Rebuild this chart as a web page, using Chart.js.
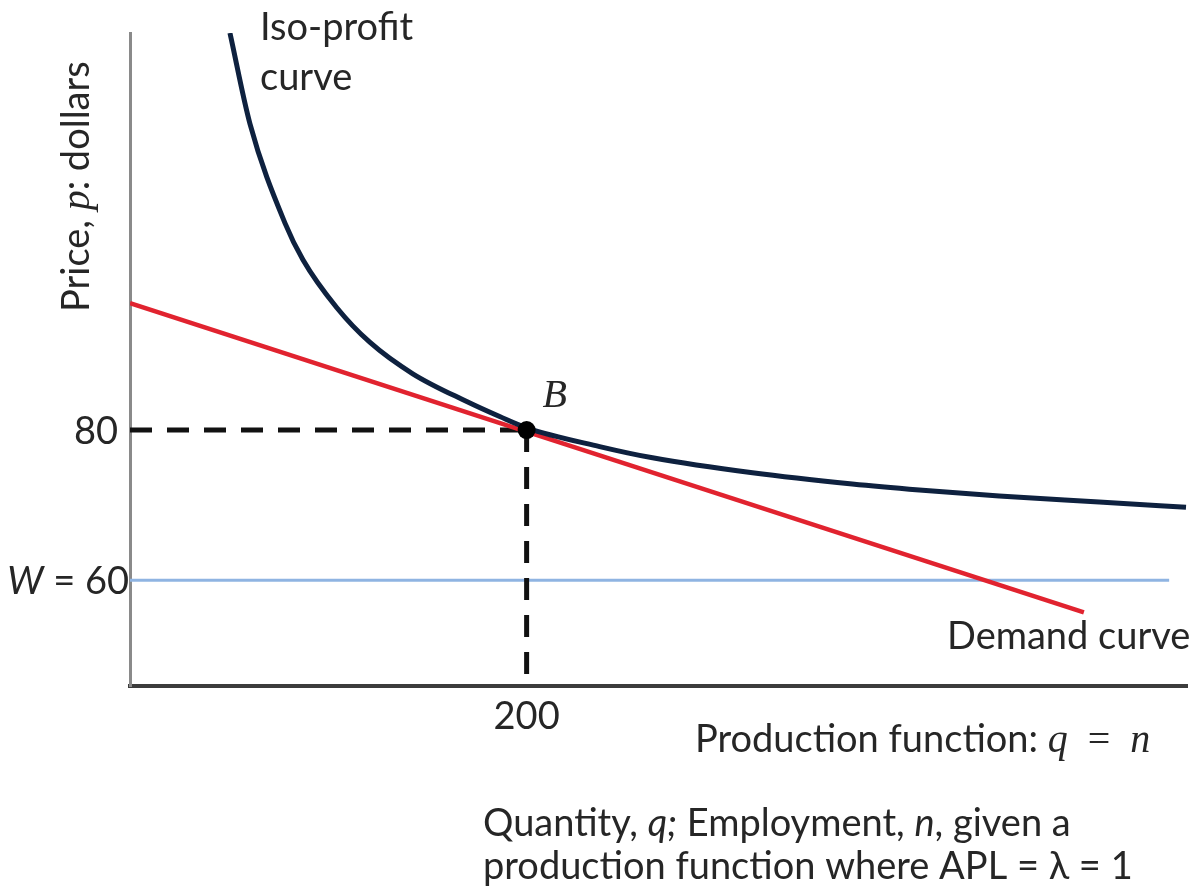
<!DOCTYPE html>
<html>
<head>
<meta charset="utf-8">
<script src="https://cdn.jsdelivr.net/npm/chart.js@4"></script>
<style>
  html, body { margin: 0; padding: 0; background: #fff; }
  #wrap { width: 1203px; height: 892px; }
</style>
</head>
<body>
<div id="wrap"><canvas id="isoCanvas" width="1203" height="892"></canvas></div>
<script>
// values
const isoQ = [50.4, 60.5, 78.1, 87.2, 104.3, 120.9, 142.6, 169.8, 186.4, 200, 236.8, 263.5, 313.9, 364.2, 398, 438.3, 488.7, 532.5];
const isoP = [132.9, 120.8, 107.6, 102.7, 96.3, 91.7, 87.5, 83.8, 81.8, 80.3, 77.8, 76.3, 74.3, 72.8, 72.0, 71.2, 70.4, 69.7];
const demandQ = [0, 481];
const demandP = [96.9, 55.7];
const wageQ = [0, 524];
const wageP = [60, 60];
const pointQ = 200;
const pointP = 80;
const wage = 60;
const xRange = [0, 533];
const yRange = [45.9, 132.9];

const SANS = "Lato, 'Open Sans', sans-serif";
const MATH = "'Liberation Serif', 'DejaVu Serif', serif";
const TEXT_COLOR = "#262626";

function toPoints(xs, ys) {
  return xs.map((x, i) => ({ x: x, y: ys[i] }));
}

// draws a row of text pieces that use different fonts
function drawRuns(ctx, runs, x, y, align) {
  let total = 0;
  runs.forEach(r => { ctx.font = r[1]; total += ctx.measureText(r[0]).width; });
  let cx = x;
  if (align === "right") cx = x - total;
  if (align === "center") cx = x - total / 2;
  ctx.textAlign = "left";
  runs.forEach(r => {
    ctx.font = r[1];
    ctx.fillText(r[0], cx, y);
    cx += ctx.measureText(r[0]).width;
  });
}

const labelPlugin = {
  id: "labels",
  afterDraw(chart) {
    const ctx = chart.ctx;
    const xs = chart.scales.x;
    const ys = chart.scales.y;
    const area = chart.chartArea;
    const sans = `38px ${SANS}`;
    const sansIt = `italic 38px ${SANS}`;
    const math = `italic 40px ${MATH}`;
    ctx.save();
    ctx.fillStyle = TEXT_COLOR;
    ctx.textBaseline = "alphabetic";

    // tick labels
    drawRuns(ctx, [["80", sans]], area.left - 12, ys.getPixelForValue(pointP) + 14, "right");
    drawRuns(ctx, [["W", sansIt], [" = 60", sans]], area.left - 1, ys.getPixelForValue(wage) + 14, "right");
    drawRuns(ctx, [["200", sans]], xs.getPixelForValue(pointQ), area.bottom + 43, "center");

    // point label
    drawRuns(ctx, [["B", math]], xs.getPixelForValue(pointQ) + 28, ys.getPixelForValue(pointP) - 23, "center");

    // curve labels
    drawRuns(ctx, [["Iso-profit", sans]], 260, 40, "left");
    drawRuns(ctx, [["curve", sans]], 260, 90, "left");
    drawRuns(ctx, [["Demand curve", sans]], 947, 649, "left");

    // axis texts
    drawRuns(ctx, [["Production function: ", sans], ["q", math], ["  =  ", `40px ${MATH}`], ["n", math]], 695, 752, "left");
    drawRuns(ctx, [["Quantity, ", sans], ["q;", sansIt], [" Employment, ", sans], ["n", sansIt], [", given a", sans]], 483, 836, "left");
    drawRuns(ctx, [["production function where APL = \u03bb = 1", sans]], 483, 879, "left");

    ctx.save();
    ctx.translate(89, 312);
    ctx.rotate(-Math.PI / 2);
    drawRuns(ctx, [["Price, ", sans], ["p", math], [": dollars", sans]], 0, 0, "left");
    ctx.restore();

    ctx.restore();
  }
};

const config = {
  type: "scatter",
  data: {
    datasets: [
      {
        label: "B",
        data: [{ x: pointQ, y: pointP }],
        pointRadius: 9,
        pointBackgroundColor: "#000",
        pointBorderWidth: 0,
        showLine: false
      },
      {
        label: "Iso-profit curve",
        data: toPoints(isoQ, isoP),
        showLine: true,
        borderColor: "#0e213f",
        borderWidth: 5,
        pointRadius: 0,
        cubicInterpolationMode: "monotone"
      },
      {
        label: "Demand curve",
        data: toPoints(demandQ, demandP),
        showLine: true,
        borderColor: "#e1232f",
        borderWidth: 4.5,
        pointRadius: 0
      },
      {
        label: "p = 80",
        data: [{ x: xRange[0], y: pointP }, { x: pointQ, y: pointP }],
        showLine: true,
        borderColor: "#111",
        borderWidth: 5,
        borderDash: [22, 15],
        pointRadius: 0
      },
      {
        label: "q = 200",
        data: [{ x: pointQ, y: pointP }, { x: pointQ, y: yRange[0] }],
        showLine: true,
        borderColor: "#111",
        borderWidth: 5,
        borderDash: [22, 15],
        pointRadius: 0
      },
      {
        label: "W = 60",
        data: toPoints(wageQ, wageP),
        showLine: true,
        borderColor: "#8fb4e2",
        borderWidth: 3,
        pointRadius: 0
      }
    ]
  },
  options: {
    responsive: false,
    animation: false,
    layout: { padding: { left: 130, top: 33, right: 16, bottom: 206 } },
    plugins: {
      legend: { display: false },
      tooltip: { enabled: false }
    },
    scales: {
      x: {
        type: "linear",
        min: xRange[0],
        max: xRange[1],
        grid: { display: false },
        ticks: { display: false },
        border: { color: "#3c3c3c", width: 4 },
        afterFit(scale) { scale.height = 0; }
      },
      y: {
        type: "linear",
        min: yRange[0],
        max: yRange[1],
        grid: { display: false },
        ticks: { display: false },
        border: { color: "#8a8a8a", width: 3 },
        afterFit(scale) { scale.width = 0; }
      }
    }
  },
  plugins: [labelPlugin]
};

new Chart(document.getElementById("isoCanvas"), config);
</script>
</body>
</html>
